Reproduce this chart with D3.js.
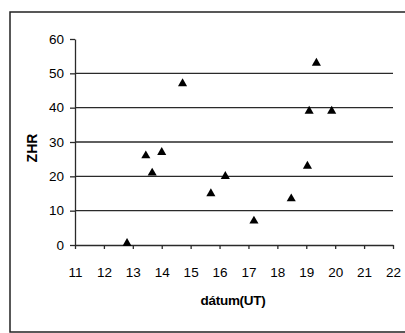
<!DOCTYPE html>
<html>
<head>
<meta charset="utf-8">
<script src="https://cdn.jsdelivr.net/npm/d3@7"></script>
<style>
  body { margin: 0; background: #fff; }
  svg { display: block; font-family: Arial, "Liberation Sans", sans-serif; }
</style>
</head>
<body>
<div id="chart"></div>
<script>
// observation dates (UT, day of month) and ZHR values
const dates = [12.8, 13.45, 13.67, 14.0, 14.72, 15.7, 16.2, 17.19, 18.48, 19.04, 19.1, 19.35, 19.88];
const zhr = [0.5, 26, 21, 27, 47, 15, 20, 7, 13.5, 23, 39, 53, 39];
const xTicks = [11, 12, 13, 14, 15, 16, 17, 18, 19, 20, 21, 22];
const yTicks = [0, 10, 20, 30, 40, 50, 60];

let width = 405,
  height = 333,
  margin = { left: 75, right: 12, top: 39, bottom: 88 };

let svg = d3
  .select("#chart")
  .append("svg")
  .attr("width", width)
  .attr("height", height);

// outer frame of the scanned figure
svg
  .append("rect")
  .attr("x", 10)
  .attr("y", 12)
  .attr("width", 410)
  .attr("height", 320)
  .attr("fill", "none")
  .attr("stroke", "#222")
  .attr("stroke-width", 1.5);

let x = d3
  .scaleLinear()
  .domain([11, 22])
  .range([margin.left, width - margin.right]);

let y = d3
  .scaleLinear()
  .domain([0, 60])
  .range([height - margin.bottom, margin.top]);

// horizontal gridlines
svg
  .append("g")
  .selectAll("line")
  .data(yTicks.filter(t => t > 0 && t < 60))
  .enter()
  .append("line")
  .attr("x1", x(11))
  .attr("x2", x(22))
  .attr("y1", d => y(d))
  .attr("y2", d => y(d))
  .attr("stroke", "#2a2a2a")
  .attr("stroke-width", 1.3);

// y axis
let yAxis = svg
  .append("g")
  .attr("transform", `translate(${x(11)},0)`)
  .call(d3.axisLeft(y).tickValues(yTicks).tickSize(5).tickSizeOuter(0));

// x axis
let xAxis = svg
  .append("g")
  .attr("transform", `translate(0,${y(0)})`)
  .call(d3.axisBottom(x).tickValues(xTicks).tickSize(4).tickSizeOuter(0));

[yAxis, xAxis].forEach(g => {
  g.selectAll("path, line").attr("stroke", "#2a2a2a").attr("stroke-width", 1.3);
  g.selectAll("text").attr("font-size", 13.5).attr("fill", "#000");
});
yAxis.selectAll("text").attr("x", -11);
xAxis.selectAll("text").attr("y", 22);

// axis titles
svg
  .append("text")
  .text("dátum(UT)")
  .attr("x", 233)
  .attr("y", 305)
  .attr("text-anchor", "middle")
  .attr("font-size", 13.5)
  .attr("font-weight", "bold")
  .attr("letter-spacing", -0.3)
  .attr("fill", "#000");

svg
  .append("text")
  .text("ZHR")
  .attr("transform", `translate(37,148) rotate(-90)`)
  .attr("text-anchor", "middle")
  .attr("font-size", 14)
  .attr("font-weight", "bold")
  .attr("fill", "#000");

// data points as triangles
svg
  .append("g")
  .selectAll("path")
  .data(dates)
  .enter()
  .append("path")
  .attr("d", d3.symbol().type(d3.symbolTriangle).size(36))
  .attr("transform", (d, i) => `translate(${x(d)},${y(zhr[i])})`)
  .attr("fill", "#000");
</script>
</body>
</html>
